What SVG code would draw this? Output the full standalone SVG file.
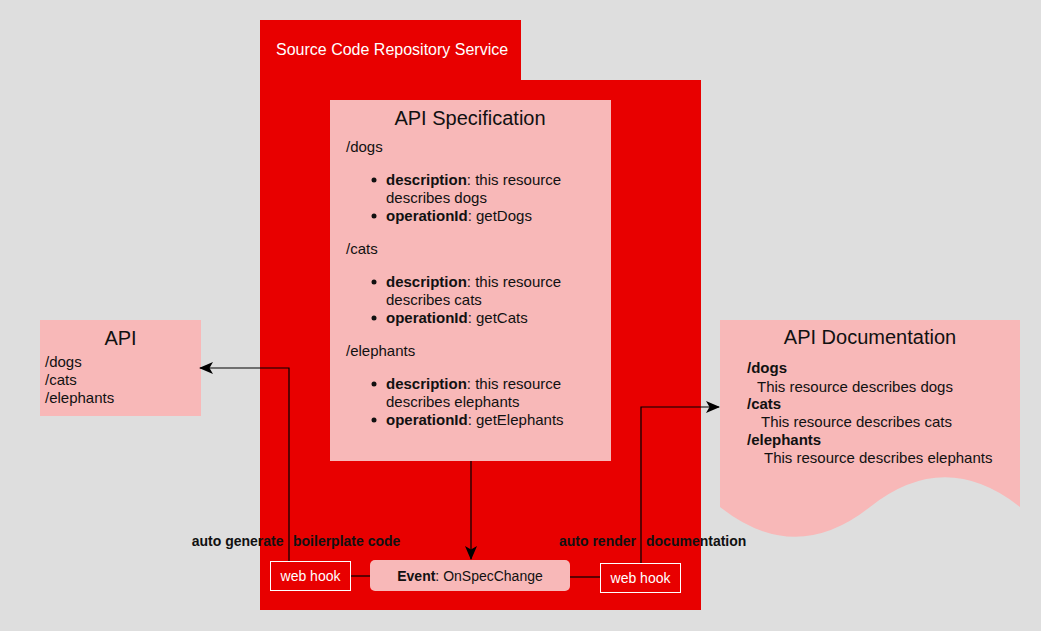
<svg xmlns="http://www.w3.org/2000/svg" width="1041" height="631" viewBox="0 0 1041 631">
<style>
  text { font-family: "Liberation Sans", Arial, sans-serif; fill: #111; }
  .t15 { font-size: 15px; }
  .t14 { font-size: 14px; }
  .title { font-size: 20px; text-anchor: middle; }
  .b { font-weight: bold; }
  .white { fill: #ffffff; }
  .pink { fill: #f8b8b8; }
  .red { fill: #e80000; }
  .conn { fill: none; stroke: #000; stroke-width: 1.2; }
  .lbl { font-size: 14px; font-weight: bold; white-space: pre; }
</style>
<defs>
  <marker id="arr" viewBox="0 0 14 12" markerWidth="14" markerHeight="12" refX="13" refY="6" orient="auto" markerUnits="userSpaceOnUse">
    <path d="M0,0 L14,6 L0,12 L3.5,6 Z" fill="#000"/>
  </marker>
</defs>
<rect x="0" y="0" width="1041" height="631" fill="#dedede"/>

<g id="repo">
  <path class="red" d="M260,20 H521 V80 H701 V610 H260 Z"/>
  <text class="white" x="276" y="55" style="font-size:16px">Source Code Repository Service</text>
</g>

<g id="spec">
  <rect class="pink" x="330" y="100" width="281" height="361"/>
  <text class="title" x="470" y="125">API Specification</text>
  <g class="t15">
    <text x="346" y="152">/dogs</text>
    <text x="386" y="185"><tspan class="b">description</tspan>: this resource</text>
    <text x="386" y="203">describes dogs</text>
    <text x="386" y="221"><tspan class="b">operationId</tspan>: getDogs</text>
    <text x="346" y="254">/cats</text>
    <text x="386" y="287"><tspan class="b">description</tspan>: this resource</text>
    <text x="386" y="305">describes cats</text>
    <text x="386" y="323"><tspan class="b">operationId</tspan>: getCats</text>
    <text x="346" y="356">/elephants</text>
    <text x="386" y="389"><tspan class="b">description</tspan>: this resource</text>
    <text x="386" y="407">describes elephants</text>
    <text x="386" y="425"><tspan class="b">operationId</tspan>: getElephants</text>
  </g>
  <g fill="#111">
    <circle cx="374" cy="180" r="2.5"/>
    <circle cx="374" cy="216" r="2.5"/>
    <circle cx="374" cy="282" r="2.5"/>
    <circle cx="374" cy="318" r="2.5"/>
    <circle cx="374" cy="384" r="2.5"/>
    <circle cx="374" cy="420" r="2.5"/>
  </g>
</g>

<g id="api">
  <rect class="pink" x="40" y="320" width="161" height="96"/>
  <text class="title" x="120.5" y="345">API</text>
  <g class="t15">
    <text x="45" y="367">/dogs</text>
    <text x="45" y="385">/cats</text>
    <text x="45" y="403">/elephants</text>
  </g>
</g>

<g id="docs">
  <path class="pink" d="M720,320 H1020 V507 Q945,447.6 870,507 Q795,566.4 720,507 Z"/>
  <text class="title" x="870" y="344">API Documentation</text>
  <g class="t15">
    <text class="b" x="747" y="373">/dogs</text>
    <text x="757" y="392">This resource describes dogs</text>
    <text class="b" x="747" y="409">/cats</text>
    <text x="761" y="427">This resource describes cats</text>
    <text class="b" x="747" y="445">/elephants</text>
    <text x="764" y="463">This resource describes elephants</text>
  </g>
</g>

<g id="connectors">
  <path class="conn" d="M289,561 V368 H200" marker-end="url(#arr)"/>
  <path class="conn" d="M471,461 V559" marker-end="url(#arr)"/>
  <path class="conn" d="M641,563 V407 H719" marker-end="url(#arr)"/>
  <path class="conn" d="M350,576 H370"/>
  <path class="conn" d="M570,577 H600"/>
  <text class="lbl" y="546"><tspan x="283.5" text-anchor="end">auto generate</tspan><tspan x="293" text-anchor="start">boilerplate code</tspan></text>
  <text class="lbl" y="546"><tspan x="636" text-anchor="end">auto render</tspan><tspan x="646" text-anchor="start">documentation</tspan></text>
</g>

<g id="webhook-left">
  <rect x="270.5" y="561.5" width="80" height="29" fill="#e80000" stroke="#fff" stroke-width="1"/>
  <text class="t14 white" x="310.5" y="581" text-anchor="middle">web hook</text>
</g>

<g id="event">
  <rect class="pink" x="370" y="560" width="200" height="31" rx="5"/>
  <text class="t14" x="470" y="581" text-anchor="middle"><tspan class="b">Event</tspan>: OnSpecChange</text>
</g>

<g id="webhook-right">
  <rect x="600.5" y="563.5" width="80" height="29" fill="#e80000" stroke="#fff" stroke-width="1"/>
  <text class="t14 white" x="640.5" y="583" text-anchor="middle">web hook</text>
</g>
</svg>
